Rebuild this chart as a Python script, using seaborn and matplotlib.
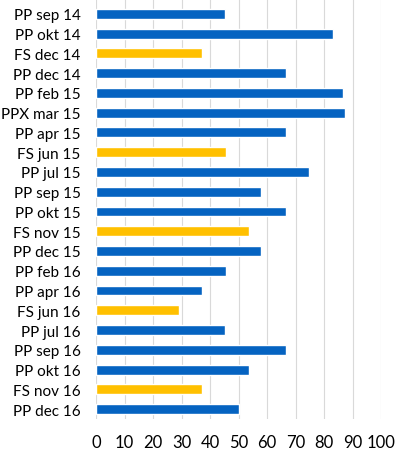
import matplotlib
matplotlib.use("Agg")
import matplotlib.pyplot as plt
import seaborn as sns
import pandas as pd

labels = ["PP sep 14", "PP okt 14", "FS dec 14", "PP dec 14", "PP feb 15", "PPX mar 15",
          "PP apr 15", "FS jun 15", "PP jul 15", "PP sep 15", "PP okt 15", "FS nov 15",
          "PP dec 15", "PP feb 16", "PP apr 16", "FS jun 16", "PP jul 16", "PP sep 16",
          "PP okt 16", "FS nov 16", "PP dec 16"]
values = [45.3, 83.2, 37.2, 66.5, 86.5, 87.5, 66.5, 45.7, 74.8, 58, 66.7, 53.7,
          58, 45.7, 37.2, 29.2, 45.3, 66.7, 53.7, 37.2, 50]
kind = ["FS" if l.startswith("FS") else "PP" for l in labels]
xticks = list(range(0, 101, 10))

df = pd.DataFrame({"label": labels, "value": values, "kind": kind})

sns.set_style("white")
plt.rcParams["font.family"] = ["Lato", "DejaVu Sans"]

fig = plt.figure(figsize=(3.98, 4.56), dpi=100)
ax = fig.add_axes([96/398, 1 - 420/456, (381-96)/398, 420/456])

sns.barplot(data=df, x="value", y="label", hue="kind", dodge=False, width=0.5,
            palette={"PP": "#0563C1", "FS": "#FFC000"}, ax=ax, legend=False,
            orient="h", saturation=1)

ax.set_xlim(0, 100)
ax.set_xticks(xticks)
ax.set_xticklabels([str(t) for t in xticks])
ax.set_ylim(len(labels) - 0.5, -0.75)
ax.grid(axis="x", color="#D9D9D9", linewidth=0.8)
ax.set_axisbelow(True)
for s in ax.spines.values():
    s.set_visible(False)
ax.set_xlabel("")
ax.set_ylabel("")
ax.tick_params(axis="y", length=0, pad=11, labelsize=11, labelcolor="#000000")
ax.tick_params(axis="x", length=0, pad=11, labelsize=12, labelcolor="#000000")

fig.savefig("out.png", dpi=100)
